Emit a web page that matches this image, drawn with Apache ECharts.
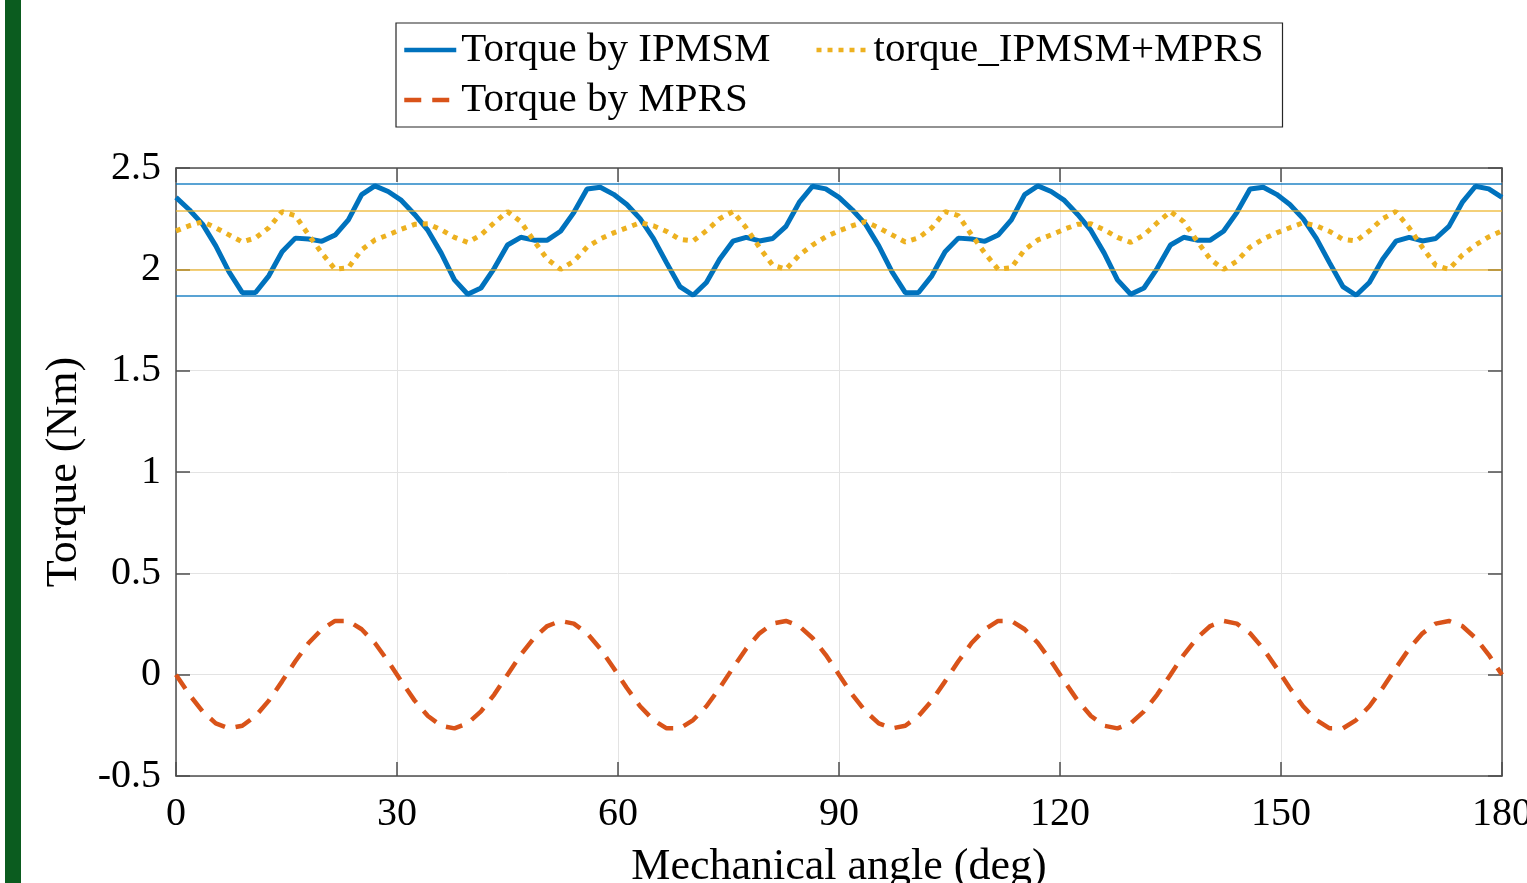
<!DOCTYPE html>
<html>
<head>
<meta charset="utf-8">
<script src="https://cdn.jsdelivr.net/npm/echarts@6/dist/echarts.min.js"></script>
<style>
  html, body { margin: 0; padding: 0; background: #fff; }
  #main { width: 1527px; height: 883px; }
</style>
</head>
<body>
<div id="main"></div>
<script>
// sample angles (deg), 1.8 deg step
const angles = [
    0, 1.8, 3.6, 5.4, 7.2, 9, 10.8, 12.6, 14.4, 16.2,
    18, 19.8, 21.6, 23.4, 25.2, 27, 28.8, 30.6, 32.4, 34.2,
    36, 37.8, 39.6, 41.4, 43.2, 45, 46.8, 48.6, 50.4, 52.2,
    54, 55.8, 57.6, 59.4, 61.2, 63, 64.8, 66.6, 68.4, 70.2,
    72, 73.8, 75.6, 77.4, 79.2, 81, 82.8, 84.6, 86.4, 88.2,
    90, 91.8, 93.6, 95.4, 97.2, 99, 100.8, 102.6, 104.4, 106.2,
    108, 109.8, 111.6, 113.4, 115.2, 117, 118.8, 120.6, 122.4, 124.2,
    126, 127.8, 129.6, 131.4, 133.2, 135, 136.8, 138.6, 140.4, 142.2,
    144, 145.8, 147.6, 149.4, 151.2, 153, 154.8, 156.6, 158.4, 160.2,
    162, 163.8, 165.6, 167.4, 169.2, 171, 172.8, 174.6, 176.4, 178.2,
    180
];

// Torque by IPMSM (Nm)
const torqueIPMSM = [
    2.355, 2.294, 2.223, 2.116, 1.987, 1.885, 1.886, 1.968, 2.087, 2.154,
    2.150, 2.138, 2.169, 2.244, 2.369, 2.412, 2.384, 2.340, 2.271, 2.192,
    2.080, 1.948, 1.877, 1.908, 2.005, 2.120, 2.158, 2.144, 2.144, 2.188,
    2.280, 2.396, 2.405, 2.370, 2.320, 2.250, 2.153, 2.032, 1.915, 1.872,
    1.935, 2.050, 2.139, 2.158, 2.140, 2.152, 2.212, 2.330, 2.410, 2.397,
    2.355, 2.294, 2.223, 2.116, 1.987, 1.885, 1.886, 1.968, 2.087, 2.154,
    2.150, 2.138, 2.169, 2.244, 2.369, 2.412, 2.384, 2.340, 2.271, 2.192,
    2.080, 1.948, 1.877, 1.908, 2.005, 2.120, 2.158, 2.144, 2.144, 2.188,
    2.280, 2.396, 2.405, 2.370, 2.320, 2.250, 2.153, 2.032, 1.915, 1.872,
    1.935, 2.050, 2.139, 2.158, 2.140, 2.152, 2.212, 2.330, 2.410, 2.397,
    2.355
];

// Torque by MPRS (Nm)
const torqueMPRS = [
    0, -0.098, -0.181, -0.240, -0.265, -0.252, -0.204, -0.128, -0.033, 0.066,
    0.156, 0.224, 0.265, 0.265, 0.224, 0.156, 0.066, -0.033, -0.128, -0.204,
    -0.252, -0.265, -0.240, -0.181, -0.098, 0, 0.098, 0.181, 0.240, 0.265,
    0.252, 0.204, 0.128, 0.033, -0.066, -0.156, -0.224, -0.265, -0.265, -0.224,
    -0.156, -0.066, 0.033, 0.128, 0.204, 0.252, 0.265, 0.240, 0.181, 0.098,
    0, -0.098, -0.181, -0.240, -0.265, -0.252, -0.204, -0.128, -0.033, 0.066,
    0.156, 0.224, 0.265, 0.265, 0.224, 0.156, 0.066, -0.033, -0.128, -0.204,
    -0.252, -0.265, -0.240, -0.181, -0.098, 0, 0.098, 0.181, 0.240, 0.265,
    0.252, 0.204, 0.128, 0.033, -0.066, -0.156, -0.224, -0.265, -0.265, -0.224,
    -0.156, -0.066, 0.033, 0.128, 0.204, 0.252, 0.265, 0.240, 0.181, 0.098,
    0
];

// torque_IPMSM+MPRS (Nm)
const torqueSum = [
    2.190, 2.215, 2.235, 2.205, 2.170, 2.135, 2.155, 2.205, 2.285, 2.265,
    2.170, 2.080, 2.000, 2.008, 2.097, 2.145, 2.170, 2.198, 2.222, 2.225,
    2.195, 2.158, 2.133, 2.170, 2.230, 2.285, 2.235, 2.140, 2.050, 2.000,
    2.040, 2.110, 2.150, 2.180, 2.205, 2.230, 2.215, 2.187, 2.148, 2.140,
    2.190, 2.250, 2.285, 2.205, 2.108, 2.020, 2.000, 2.070, 2.120, 2.160,
    2.190, 2.215, 2.235, 2.205, 2.170, 2.135, 2.155, 2.205, 2.285, 2.265,
    2.170, 2.080, 2.000, 2.008, 2.097, 2.145, 2.170, 2.198, 2.222, 2.225,
    2.195, 2.158, 2.133, 2.170, 2.230, 2.285, 2.235, 2.140, 2.050, 2.000,
    2.040, 2.110, 2.150, 2.180, 2.205, 2.230, 2.215, 2.187, 2.148, 2.140,
    2.190, 2.250, 2.285, 2.205, 2.108, 2.020, 2.000, 2.070, 2.120, 2.160,
    2.190
];

// max / min reference lines
const limitsIPMSM = [2.417, 1.871];
const limitsSum = [2.286, 1.995];

const names = ['Torque by IPMSM', 'torque_IPMSM+MPRS', 'Torque by MPRS'];

const serif = '"Liberation Serif", "Times New Roman", serif';
const axisColor = '#4d4d4d';

function pairs(ys) {
    return angles.map((a, i) => [a, ys[i]]);
}

function limitLines(vals, color) {
    return {
        silent: true,
        symbol: ['none', 'none'],
        label: { show: false },
        lineStyle: { color: color, width: 2, type: 'solid' },
        data: vals.map(v => ({ yAxis: v }))
    };
}

let myChart = echarts.init(document.getElementById('main'));

let option = {
    backgroundColor: '#fff',
    animation: false,
    graphic: [
        {
            type: 'rect',
            left: 5,
            top: 0,
            shape: { width: 16, height: 883 },
            style: { fill: '#0b5c1f' }
        }
    ],
    legend: {
        left: 396,
        top: 23,
        width: 880,
        padding: [6, 7, 6, 6],
        itemGap: 8,
        itemWidth: 52,
        itemHeight: 14,
        borderColor: '#262626',
        borderWidth: 1.2,
        backgroundColor: '#fff',
        itemStyle: { color: 'rgba(0,0,0,0)', borderWidth: 0, opacity: 0 },
        lineStyle: { width: 4.5 },
        textStyle: { fontFamily: serif, fontSize: 41, color: '#000', lineHeight: 42 },
        data: [
            { name: names[0], textStyle: { width: 345 } },
            { name: names[1], textStyle: { width: 402 } },
            { name: names[2] }
        ]
    },
    grid: { left: 176, right: 25, top: 168, bottom: 107, outerBoundsMode: 'none', containLabel: false },
    xAxis: [
        {
            type: 'value',
            min: 0,
            max: 180,
            interval: 30,
            name: 'Mechanical angle (deg)',
            nameLocation: 'middle',
            nameGap: 69,
            nameTextStyle: { fontFamily: serif, fontSize: 44, color: '#000' },
            axisLine: { show: true, onZero: false, lineStyle: { color: axisColor, width: 1.5 } },
            axisTick: { show: true, inside: true, length: 14, lineStyle: { color: axisColor, width: 1.5 } },
            axisLabel: { fontFamily: serif, fontSize: 40, color: '#000', margin: 18 },
            splitLine: { show: true, lineStyle: { color: '#e3e3e3', width: 1 } }
        },
        {
            type: 'value',
            position: 'top',
            min: 0,
            max: 180,
            interval: 30,
            axisLine: { show: true, onZero: false, lineStyle: { color: axisColor, width: 1.5 } },
            axisTick: { show: true, inside: true, length: 14, lineStyle: { color: axisColor, width: 1.5 } },
            axisLabel: { show: false },
            splitLine: { show: false }
        }
    ],
    yAxis: [
        {
            type: 'value',
            min: -0.5,
            max: 2.5,
            interval: 0.5,
            name: 'Torque (Nm)',
            nameLocation: 'middle',
            nameGap: 84,
            nameTextStyle: { fontFamily: serif, fontSize: 44, color: '#000' },
            axisLine: { show: true, onZero: false, lineStyle: { color: axisColor, width: 1.5 } },
            axisTick: { show: true, inside: true, length: 14, lineStyle: { color: axisColor, width: 1.5 } },
            axisLabel: { fontFamily: serif, fontSize: 40, color: '#000', margin: 15 },
            splitLine: { show: true, lineStyle: { color: '#e3e3e3', width: 1 } }
        },
        {
            type: 'value',
            position: 'right',
            min: -0.5,
            max: 2.5,
            interval: 0.5,
            axisLine: { show: true, onZero: false, lineStyle: { color: axisColor, width: 1.5 } },
            axisTick: { show: true, inside: true, length: 14, lineStyle: { color: axisColor, width: 1.5 } },
            axisLabel: { show: false },
            splitLine: { show: false }
        }
    ],
    series: [
        {
            name: names[0],
            type: 'line',
            data: pairs(torqueIPMSM),
            symbol: 'none',
            z: 4,
            color: '#0072BD',
            lineStyle: { color: '#0072BD', width: 5, type: 'solid' }
        },
        {
            name: names[2],
            type: 'line',
            data: pairs(torqueMPRS),
            symbol: 'none',
            z: 4,
            color: '#D95319',
            lineStyle: { color: '#D95319', width: 4.5, type: [17, 11] }
        },
        {
            name: names[1],
            type: 'line',
            data: pairs(torqueSum),
            symbol: 'none',
            z: 5,
            color: '#EDB120',
            lineStyle: { color: '#EDB120', width: 5, type: [5, 6] }
        },
        {
            name: 'IPMSM limits',
            type: 'line',
            data: [],
            z: 2,
            markLine: limitLines(limitsIPMSM, 'rgba(0,114,189,0.65)')
        },
        {
            name: 'sum limits',
            type: 'line',
            data: [],
            z: 2,
            markLine: limitLines(limitsSum, 'rgba(237,177,32,0.6)')
        }
    ]
};

myChart.setOption(option);
</script>
</body>
</html>
